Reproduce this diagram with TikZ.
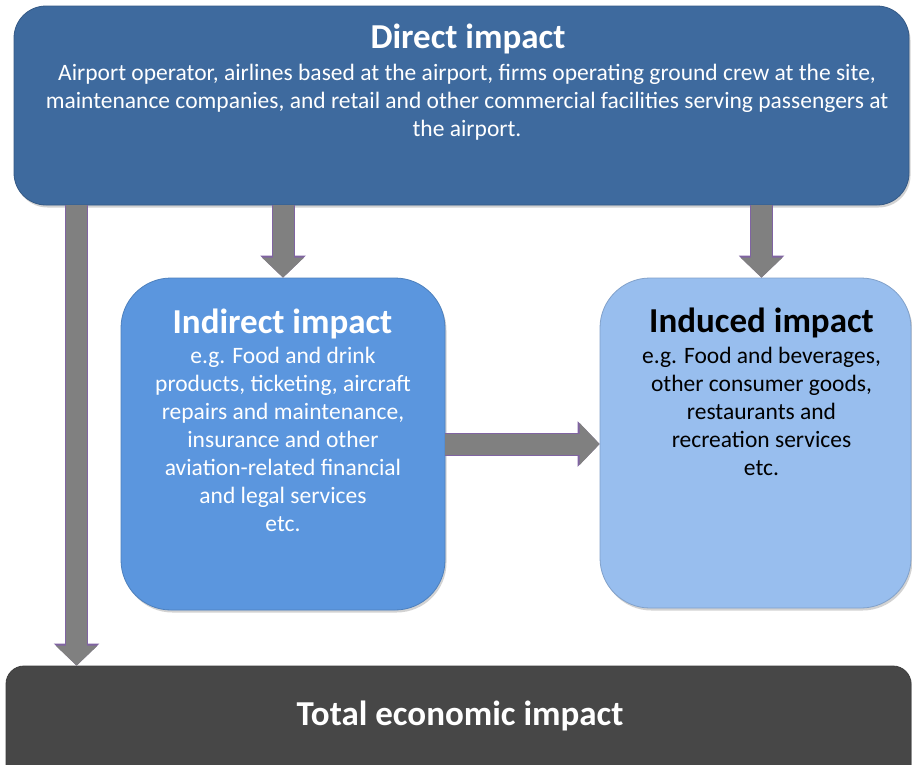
\documentclass[tikz,border=0pt]{standalone}
\usepackage{fontspec}
\setmainfont{Carlito}
\usetikzlibrary{arrows.meta}
\usetikzlibrary{positioning}
\usetikzlibrary{shadows}
\definecolor{dblue}   {RGB}{62,106,158}
\definecolor{iblue}   {RGB}{91,150,222}
\definecolor{nblue}   {RGB}{152,190,238}
\definecolor{tgray}   {RGB}{71,71,71}
\definecolor{agray}   {RGB}{128,128,128}
\definecolor{apurple} {RGB}{128,100,162}
\tikzset{
    panel/.style={inner sep=0pt, fill=#1, draw=#1!85!black, line width=0.8pt,
      drop shadow={shadow xshift=1.5pt, shadow yshift=-2.5pt, opacity=0.35}},
    headtext/.style={font=\fontsize{35}{38}\selectfont\bfseries, inner sep=0pt},
    bodytext/.style={font=\fontsize{23.5}{28}\selectfont, align=center, inner sep=0pt},
    flow/.style={draw=agray, line width=21pt,
      -{Triangle[width=42pt,length=20pt,line width=0pt]},
      preaction={draw=apurple, line width=23pt,
        -{Triangle[width=45.5pt,length=22pt,line width=0pt]}}}
  }
\begin{document}
\begin{tikzpicture}[x=1pt, y=-1pt]
 \useasboundingbox[fill=white] (0,0) rectangle (912,764);
 % boxes
     \node[panel=dblue, rounded corners=32pt, minimum width=895pt, minimum height=199pt] (direct) at (461.5,105.5) {};
     \node[panel=iblue, rounded corners=50pt, minimum width=324pt, minimum height=332pt] (indirect) at (283,444) {};
     \node[panel=nblue, rounded corners=50pt, minimum width=311pt, minimum height=330pt] (induced) at (755.5,443) {};
     \node[panel=tgray, rounded corners=18pt, minimum width=905pt, minimum height=134pt] (total) at (458.5,733) {};
 % texts (base = last line)
     \node[headtext, white, anchor=base] (directhead) at (468,48) {Direct impact};
     \node[bodytext, white, anchor=base] (directbody) at (467,136)
       {Airport operator, airlines based at the airport, firms operating ground crew at the site,\\
        maintenance companies, and retail and other commercial facilities serving passengers at\\
        the airport.};
     \node[headtext, white, anchor=base] (indirecthead) at (282.5,333) {Indirect impact};
     \node[bodytext, white, anchor=base] (indirectbody) at (283,531)
       {e.g. Food and drink\\ products, ticketing, aircraft\\ repairs and maintenance,\\
        insurance and other\\ aviation-related financial\\ and legal services\\ etc.};
     \node[headtext, black, anchor=base] (inducedhead) at (761.5,332) {Induced impact};
     \node[bodytext, black, anchor=base] (inducedbody) at (761.5,475)
       {e.g. Food and beverages,\\ other consumer goods,\\ restaurants and\\
        recreation services\\ etc.};
     \node[headtext, white, anchor=base] (totalhead) at (460,725) {Total economic impact};
 % arrows
     \draw[flow] ([xshift=63pt]direct.south west) -- ([xshift=71pt]total.north west);
     \draw[flow] (direct.south -| indirect.north) -- (indirect.north);
     \draw[flow] ([xshift=6pt]direct.south -| induced.north) -- ([xshift=6pt]induced.north);
     \draw[flow] (indirect.east) -- (indirect.east -| induced.west);
\end{tikzpicture}
\end{document}
